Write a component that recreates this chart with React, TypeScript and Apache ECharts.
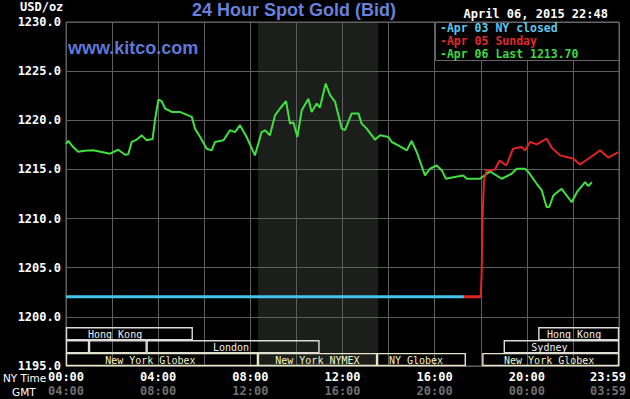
import React, { useEffect, useRef } from "react";
import * as echarts from "echarts";

// Apr 06 (green) — [NY hour, price]
const apr06: [number, number][] = [
  [0.0, 1217.6], [0.1, 1217.9], [0.3, 1217.3], [0.53, 1216.8], [0.8, 1216.9], [1.18, 1216.95], [1.5, 1216.8],
  [1.91, 1216.6], [2.27, 1217.0], [2.56, 1216.5], [2.7, 1216.55], [2.85, 1217.8], [3.05, 1218.0],
  [3.29, 1218.47], [3.5, 1217.96], [3.76, 1218.1], [3.86, 1220.0], [4.01, 1222.1], [4.15, 1221.95],
  [4.3, 1221.2], [4.59, 1220.85], [4.95, 1220.85], [5.09, 1220.7], [5.46, 1220.34], [5.6, 1219.15],
  [5.82, 1218.3], [6.11, 1217.1], [6.32, 1216.94], [6.47, 1217.8], [6.83, 1217.96], [7.12, 1218.98],
  [7.34, 1218.8], [7.55, 1219.5], [7.84, 1218.3], [8.2, 1216.43], [8.49, 1218.8], [8.64, 1218.98],
  [8.85, 1218.47], [9.07, 1220.5], [9.29, 1221.2], [9.55, 1221.94], [9.72, 1219.66], [9.87, 1219.8],
  [10.04, 1218.3], [10.23, 1221.02], [10.52, 1222.2], [10.66, 1220.85], [10.88, 1221.7], [11.02, 1221.3],
  [11.27, 1223.74], [11.46, 1222.55], [11.68, 1221.87], [11.97, 1219.15], [12.11, 1219.0], [12.4, 1220.7],
  [12.69, 1220.7], [12.83, 1219.66], [13.05, 1219.15], [13.41, 1218.03], [13.63, 1218.47], [13.99, 1218.3],
  [14.14, 1217.79], [14.42, 1217.45], [14.79, 1216.94], [15.0, 1217.89], [15.22, 1216.77], [15.58, 1214.39],
  [15.8, 1215.07], [16.09, 1215.4], [16.31, 1214.9], [16.49, 1214.05], [16.81, 1214.2], [17.24, 1214.39],
  [17.39, 1214.05], [17.97, 1214.05], [18.4, 1214.8], [18.91, 1214.05], [19.34, 1214.56], [19.56, 1215.07],
  [19.92, 1215.07], [20.07, 1214.73], [20.43, 1213.54], [20.65, 1212.86], [20.86, 1211.15], [20.98, 1211.2],
  [21.15, 1212.35], [21.51, 1213.03], [21.95, 1211.66], [22.17, 1212.68], [22.53, 1213.7], [22.67, 1213.3],
  [22.82, 1213.7],
];

// Apr 05 Sunday (red)
const apr05Close: [number, number][] = [[17.27, 1202.05], [18.0, 1202.05]];
const apr05: [number, number][] = [
  [18.0, 1202.05], [18.04, 1204.5], [18.08, 1210.0], [18.14, 1213.88], [18.25, 1214.9], [18.61, 1214.97],
  [18.82, 1215.9], [19.11, 1215.4], [19.4, 1217.1], [19.77, 1217.28], [19.92, 1216.94], [20.14, 1217.79],
  [20.43, 1217.55], [20.86, 1218.13], [21.08, 1217.21], [21.44, 1216.43], [21.73, 1216.26], [22.02, 1216.09],
  [22.31, 1215.51], [22.67, 1216.09], [23.18, 1216.94], [23.54, 1216.19], [23.97, 1216.77],
];

// Apr 03 NY closed (cyan)
const apr03: [number, number][] = [[0, 1202.05], [17.27, 1202.05]];

// COMEX pit hours shading
const pitHours: [number, number][] = [[8.333, 13.55]];

// Market sessions: [start, end, row, labelAt]
const sessionNames = [
  "Hong Kong", "", "", "London", "New York Globex", "New York NYMEX", "NY Globex", "New York Globex", "Sydney", "Hong Kong",
];
const sessionSpans: [number, number, number, number][] = [
  [0, 5.5, 0, 2.13], [0, 1, 1, 0.5], [1, 3.5, 1, 2.2], [3.5, 11, 1, 7.16], [0, 8.33, 2, 3.66],
  [8.33, 13.5, 2, 10.91], [13.5, 17.35, 2, 15.19], [18.07, 24, 2, 20.97], [19.0, 24, 1, 20.98], [20.5, 24, 0, 22.05],
];
const sessionNY = [false, false, false, false, true, true, true, true, false, false];

const yMin = 1195;
const yMax = 1230;

const MONO = "'DejaVu Sans Mono', monospace";

const pad = (n: number) => (n < 10 ? "0" + n : "" + n);

export default function App() {
  const ref = useRef<HTMLDivElement>(null);
  useEffect(() => {
    if (!ref.current) return;
    const chart = echarts.init(ref.current, undefined, { renderer: "svg" });
    const lab = { fontFamily: MONO, fontWeight: "bold", fontSize: 12, lineHeight: 14 };
    chart.setOption({
      animation: false,
      backgroundColor: "#000",
      grid: {
        left: 66, right: 11, top: 22, bottom: 33, show: true, borderColor: "#666", borderWidth: 1,
        outerBoundsMode: "none", containLabel: false,
      },
      xAxis: {
        type: "value",
        min: 0,
        max: 24,
        interval: 2,
        axisLine: { show: false },
        axisTick: { show: false },
        splitLine: { show: true, lineStyle: { color: "#5e5e5e", width: 1 } },
        axisLabel: {
          interval: 0,
          margin: 4,
          showMaxLabel: true,
          formatter: (v: number) => {
            if (v % 4 !== 0) return "";
            if (v === 24) return "{c|23:59}\n{d|03:59}";
            return `{a|${pad(v)}:00}\n{b|${pad((v + 4) % 24)}:00}`;
          },
          rich: {
            a: { ...lab, color: "#fff" },
            b: { ...lab, color: "#6f6f6f" },
            c: { ...lab, color: "#fff", padding: [0, 22, 0, 0] },
            d: { ...lab, color: "#6f6f6f", padding: [0, 22, 0, 0] },
          },
        },
      },
      yAxis: {
        type: "value",
        min: yMin,
        max: yMax,
        interval: 5,
        axisLine: { show: false },
        axisTick: { show: false },
        splitLine: { show: true, lineStyle: { color: "#5e5e5e", width: 1 } },
        axisLabel: {
          margin: 5,
          color: "#fff",
          fontFamily: MONO,
          fontWeight: "bold",
          fontSize: 12,
          formatter: (v: number) => v.toFixed(1),
        },
      },
      series: [
        {
          type: "custom",
          z: -1,
          silent: true,
          data: pitHours,
          renderItem: (_p: any, api: any) => {
            const a = api.coord([api.value(0), yMax]);
            const b = api.coord([api.value(1), yMin]);
            return {
              type: "rect",
              shape: { x: a[0], y: a[1], width: b[0] - a[0], height: b[1] - a[1] },
              style: { fill: "#1b1e1b" },
            };
          },
        },
        {
          type: "line",
          data: apr03,
          symbol: "none",
          lineStyle: { color: "#44c4ec", width: 3 },
          z: 3,
        },
        {
          type: "line",
          data: apr05Close,
          symbol: "none",
          lineStyle: { color: "#e02424", width: 3 },
          z: 3,
        },
        {
          type: "line",
          data: apr06,
          symbol: "none",
          lineStyle: { color: "#3fe03f", width: 2 },
          z: 4,
        },
        {
          type: "line",
          data: apr05,
          symbol: "none",
          lineStyle: { color: "#e02424", width: 2 },
          z: 5,
        },
        {
          type: "custom",
          z: 6,
          silent: true,
          data: sessionSpans,
          encode: { x: [0, 1] },
          renderItem: (params: any, api: any) => {
            const i = params.dataIndex;
            const s = api.value(0);
            const e = api.value(1);
            const row = api.value(2);
            const at = api.value(3);
            const p0 = api.coord([s, yMin]);
            const p1 = api.coord([e, yMin]);
            const H = 12.9;
            const top = p0[1] - (3 - row) * H;
            const ny = sessionNY[i];
            const children: any[] = [
              {
                type: "rect",
                shape: { x: p0[0] + 0.5, y: top + 0.5, width: p1[0] - p0[0] - 1, height: H - 1 },
                style: { fill: "none", stroke: ny ? "#e6e6c6" : "#dcdcdc", lineWidth: 1.4 },
              },
            ];
            if (sessionNames[i]) {
              children.push({
                type: "text",
                style: {
                  text: sessionNames[i],
                  x: api.coord([at, yMin])[0],
                  y: top + H / 2 + 0.5,
                  align: "center",
                  verticalAlign: "middle",
                  fill: ny ? "#f4f4c4" : "#f2f2f2",
                  font: `10px ${MONO}`,
                },
              });
            }
            return { type: "group", children };
          },
        },
      ],
      graphic: [
        {
          type: "text",
          left: 20,
          top: 1,
          style: { text: "USD/oz", fill: "#fff", font: `bold 12px ${MONO}` },
        },
        {
          type: "text",
          x: 294,
          y: 10,
          style: {
            text: "24 Hour Spot Gold (Bid)",
            fill: "#6a80dc",
            font: "bold 18px 'Liberation Sans', Arial, sans-serif",
            align: "center",
            verticalAlign: "middle",
          },
        },
        {
          type: "text",
          x: 68,
          y: 48,
          z: 10,
          style: {
            text: "www.kitco.com",
            fill: "#6078d8",
            font: "bold 18px 'Liberation Sans', Arial, sans-serif",
            verticalAlign: "middle",
          },
        },
        {
          type: "text",
          x: 608,
          y: 14,
          style: {
            text: "April 06, 2015 22:48",
            fill: "#fff",
            font: `bold 12px ${MONO}`,
            align: "right",
            verticalAlign: "middle",
          },
        },
        {
          type: "rect",
          z: 100,
          shape: { x: 435.5, y: 22.5, width: 183.5, height: 38 },
          style: { fill: "#000", stroke: "#666", lineWidth: 1 },
        },
        {
          type: "text",
          z: 101,
          x: 440,
          y: 28,
          style: { text: "-Apr 03 NY closed", fill: "#5cc8ec", font: `bold 11.5px ${MONO}`, verticalAlign: "middle" },
        },
        {
          type: "text",
          z: 101,
          x: 440,
          y: 41,
          style: { text: "-Apr 05 Sunday", fill: "#e02a2a", font: `bold 11.5px ${MONO}`, verticalAlign: "middle" },
        },
        {
          type: "text",
          z: 101,
          x: 440,
          y: 54,
          style: { text: "-Apr 06 Last 1213.70", fill: "#3fd83f", font: `bold 11.5px ${MONO}`, verticalAlign: "middle" },
        },
        {
          type: "text",
          x: 3,
          y: 378,
          style: { text: "NY Time", fill: "#fff", font: "10.5px 'DejaVu Sans', sans-serif", verticalAlign: "middle" },
        },
        {
          type: "text",
          x: 12,
          y: 392,
          style: { text: "GMT", fill: "#fff", font: "10.5px 'DejaVu Sans', sans-serif", verticalAlign: "middle" },
        },
      ],
    });
    return () => chart.dispose();
  }, []);
  return (
    <div
      ref={ref}
      style={{ position: "fixed", left: 0, top: 0, width: 630, height: 399, background: "#000" }}
    />
  );
}
